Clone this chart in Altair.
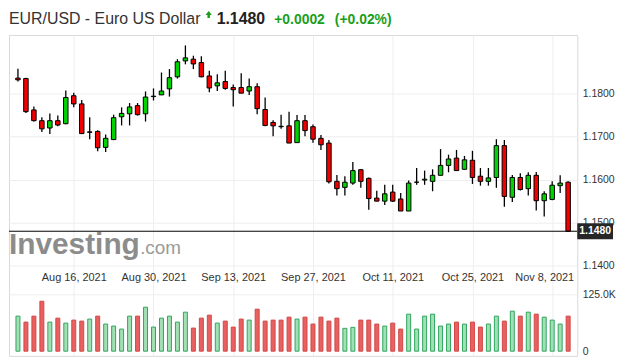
import altair as alt
import pandas as pd

FONT = "Liberation Sans"

title_main = "EUR/USD - Euro US Dollar"
title_last = "1.1480"
title_change = "+0.0002"
title_pct = "(+0.02%)"
watermark_a = "Investing"
watermark_b = ".com"

first_session = "2021-08-05"
n_sessions = 70
tick_dates = ["2021-08-16", "2021-08-30", "2021-09-13", "2021-09-27",
              "2021-10-11", "2021-10-25", "2021-11-08"]
tick_labels = ["Aug 16, 2021", "Aug 30, 2021", "Sep 13, 2021", "Sep 27, 2021",
               "Oct 11, 2021", "Oct 25, 2021", "Nov 8, 2021"]

opens = [1.1836, 1.1835, 1.1762, 1.1737, 1.1720, 1.1737, 1.1730, 1.1795, 1.1776, 1.1711,
         1.1712, 1.1675, 1.1693, 1.1746, 1.1753, 1.1772, 1.1753, 1.1793, 1.1797, 1.1811,
         1.1839, 1.1876, 1.1880, 1.1872, 1.1841, 1.1818, 1.1828, 1.1814, 1.1814, 1.1806,
         1.1816, 1.1763, 1.1733, 1.1724, 1.1725, 1.1686, 1.1737, 1.1723, 1.1696, 1.1685,
         1.1596, 1.1582, 1.1592, 1.1623, 1.1603, 1.1557, 1.1550, 1.1571, 1.1555, 1.1527,
         1.1594, 1.1599, 1.1596, 1.1610, 1.1633, 1.1650, 1.1624, 1.1645, 1.1608, 1.1596,
         1.1605, 1.1679, 1.1559, 1.1605, 1.1579, 1.1610, 1.1551, 1.1554, 1.1586, 1.1594]
highs = [1.1858, 1.1837, 1.1770, 1.1745, 1.1754, 1.1749, 1.1807, 1.1802, 1.1785, 1.1745,
         1.1715, 1.1705, 1.1751, 1.1768, 1.1778, 1.1778, 1.1805, 1.1812, 1.1849, 1.1857,
         1.1880, 1.1912, 1.1888, 1.1887, 1.1853, 1.1845, 1.1853, 1.1821, 1.1847, 1.1835,
         1.1824, 1.1791, 1.1738, 1.1751, 1.1758, 1.1750, 1.1750, 1.1728, 1.1704, 1.1692,
         1.1611, 1.1608, 1.1641, 1.1624, 1.1605, 1.1574, 1.1588, 1.1588, 1.1569, 1.1598,
         1.1627, 1.1621, 1.1624, 1.1671, 1.1658, 1.1669, 1.1655, 1.1667, 1.1627, 1.1627,
         1.1694, 1.1692, 1.1611, 1.1615, 1.1617, 1.1618, 1.1573, 1.1596, 1.1610, 1.1596]
lows = [1.1828, 1.1755, 1.1735, 1.1711, 1.1706, 1.1724, 1.1729, 1.1768, 1.1706, 1.1694,
        1.1666, 1.1664, 1.1692, 1.1726, 1.1726, 1.1749, 1.1735, 1.1784, 1.1797, 1.1793,
        1.1835, 1.1868, 1.1857, 1.1838, 1.1803, 1.1806, 1.1809, 1.1770, 1.1801, 1.1797,
        1.1752, 1.1724, 1.1701, 1.1718, 1.1685, 1.1686, 1.1701, 1.1686, 1.1669, 1.1591,
        1.1563, 1.1563, 1.1588, 1.1581, 1.1530, 1.1550, 1.1541, 1.1548, 1.1527, 1.1527,
        1.1588, 1.1588, 1.1573, 1.1610, 1.1617, 1.1621, 1.1623, 1.1590, 1.1586, 1.1586,
        1.1581, 1.1537, 1.1548, 1.1575, 1.1563, 1.1528, 1.1514, 1.1552, 1.1569, 1.1478]
closes = [1.1832, 1.1758, 1.1737, 1.1718, 1.1737, 1.1727, 1.1791, 1.1776, 1.1707, 1.1710,
          1.1674, 1.1696, 1.1744, 1.1754, 1.1769, 1.1751, 1.1792, 1.1794, 1.1806, 1.1837,
          1.1874, 1.1883, 1.1869, 1.1839, 1.1813, 1.1825, 1.1812, 1.1809, 1.1801, 1.1816,
          1.1765, 1.1726, 1.1725, 1.1723, 1.1685, 1.1737, 1.1714, 1.1694, 1.1681, 1.1595,
          1.1579, 1.1594, 1.1621, 1.1596, 1.1556, 1.1550, 1.1567, 1.1550, 1.1527, 1.1592,
          1.1594, 1.1601, 1.1610, 1.1633, 1.1648, 1.1621, 1.1646, 1.1605, 1.1596, 1.1604,
          1.1679, 1.1561, 1.1605, 1.1577, 1.1610, 1.1551, 1.1567, 1.1587, 1.1592, 1.1480]
volumes_k = [77.0, 63.9, 77.0, 109.7, 63.9, 72.6, 61.7, 68.3, 66.1, 70.5,
             77.0, 59.6, 55.2, 48.6, 77.0, 77.0, 96.6, 53.0, 72.6, 77.0,
             63.9, 85.7, 50.8, 72.6, 79.2, 61.7, 66.1, 53.0, 70.5, 68.3,
             92.3, 66.1, 68.3, 68.3, 74.8, 70.5, 74.8, 59.6, 74.8, 66.1,
             72.6, 50.2, 52.4, 68.3, 68.3, 59.6, 55.2, 61.7, 48.6, 81.4,
             48.6, 77.0, 81.4, 55.2, 59.6, 63.9, 59.6, 63.9, 53.0, 59.6,
             77.0, 66.1, 87.9, 77.0, 85.7, 81.4, 74.8, 68.3, 59.6, 77.0]
prev_session_close = 1.1828
last_price = 1.1480
price_ticks = [1.14, 1.15, 1.16, 1.17, 1.18]
volume_ticks = [0, 125]

# ---- table ----
dates = pd.bdate_range(first_session, periods=n_sessions)
prev_closes = [prev_session_close] + closes[:-1]
df = pd.DataFrame({
    "i": list(range(n_sessions)),
    "date": dates.strftime("%Y-%m-%d"),
    "open": opens, "high": highs, "low": lows, "close": closes,
    "vol": volumes_k,
})
df["up"] = [c >= o for o, c in zip(opens, closes)]
df["vol_up"] = [c >= p for p, c in zip(prev_closes, closes)]
tick_idx = [int(dates.get_loc(pd.Timestamp(d))) for d in tick_dates]

# ---- styles ----
W, H_TITLE, H_MAIN = 572, 23, 323
GRID = "#eeeeee"
TXT = "#333333"
GREEN_T = "#1a9e1a"
C_UP, C_DN = "#00d400", "#f20000"
V_UP_F, V_UP_S = "#a3dfb4", "#2fa560"
V_DN_F, V_DN_S = "#e8605f", "#d24848"

x_scale = alt.Scale(domain=[-0.5, 69.52], nice=False, zero=False)
label_list = "[" + ",".join("'%s'" % s for s in tick_labels) + "]"
idx_list = "[" + ",".join(str(v) for v in tick_idx) + "]"
x_axis = alt.Axis(
    values=tick_idx, orient="bottom", offset=-79, title=None,
    labelExpr=f"{label_list}[indexof({idx_list}, datum.value)]",
    labelOffset={"condition": {"test": f"datum.value == {tick_idx[-1]}", "value": -8}, "value": 0},
    labelBaseline="middle", labelPadding=0, ticks=False, domain=False,
    grid=True, gridColor=GRID, labelFont=FONT, labelFontSize=11, labelColor=TXT,
)
X = alt.X("i:Q", scale=x_scale, axis=x_axis)

price_scale = alt.Scale(domain=[1.119030, 1.193626], nice=False, zero=False)
price_axis = alt.Axis(
    orient="right", values=price_ticks, format=".4f", title=None,
    grid=True, gridColor=GRID, ticks=False, domain=False, labelPadding=5,
    labelFont=FONT, labelFontSize=10.5, labelColor=TXT,
)
vol_scale = alt.Scale(domain=[-10.25, 694.4], nice=False, zero=False)
vol_axis = alt.Axis(
    orient="right", values=volume_ticks, title=None,
    labelExpr="datum.value == 0 ? '0' : format(datum.value, '.1f') + 'K'",
    grid=True, gridColor=GRID,
    gridOpacity={"condition": {"test": "datum.value == 0", "value": 0}, "value": 1},
    ticks=False, domain=False, labelPadding=5,
    labelFont=FONT, labelFontSize=10.5, labelColor=TXT,
)

base = alt.Chart(df)
one = alt.Chart(pd.DataFrame({"k": [0]}))

volume = base.mark_bar(size=4, strokeWidth=1).encode(
    x=X,
    y=alt.Y("vol:Q", scale=vol_scale, axis=vol_axis),
    y2=alt.datum(0),
    fill=alt.condition("datum.vol_up", alt.value(V_UP_F), alt.value(V_DN_F)),
    stroke=alt.condition("datum.vol_up", alt.value(V_UP_S), alt.value(V_DN_S)),
)

wm1 = one.mark_text(align="left", baseline="alphabetic", font=FONT, fontSize=30,
                    fontWeight="bold", color="#8c8c8c").encode(
    x=alt.value(0), y=alt.value(220), text=alt.value(watermark_a))
wm2 = one.mark_text(align="left", baseline="alphabetic", font=FONT, fontSize=19,
                    color="#9a9a9a").encode(
    x=alt.value(132), y=alt.value(220), text=alt.value(watermark_b))

wicks = base.mark_rule(color="#000000", strokeWidth=1.3).encode(
    x=X,
    y=alt.Y("low:Q", scale=price_scale, axis=price_axis),
    y2="high:Q",
)
bodies = base.mark_bar(size=4.5, stroke="#000000", strokeWidth=1).encode(
    x=X,
    y=alt.Y("open:Q", scale=price_scale, axis=price_axis),
    y2="close:Q",
    fill=alt.condition("datum.up", alt.value(C_UP), alt.value(C_DN)),
)
last_line = one.mark_rule(color="#000000", strokeWidth=1).encode(
    y=alt.datum(last_price))
box_half = 0.00185
last_box = one.mark_rect(color="#262626").encode(
    x=alt.value(W), x2=alt.value(W + 36),
    y=alt.datum(last_price + box_half), y2=alt.datum(last_price - box_half))
last_text = one.mark_text(color="#ffffff", font=FONT, fontSize=10.5, fontWeight="bold",
                          align="center", baseline="middle").encode(
    x=alt.value(W + 18), y=alt.datum(last_price), text=alt.value(f"{last_price:.4f}"))

price = alt.layer(wm1, wm2, wicks, bodies, last_line, last_box, last_text)

main = alt.layer(volume, price).resolve_scale(y="independent").properties(
    width=W, height=H_MAIN)

ARROW = "M0,-1L0.9,0.1L0.35,0.1L0.35,1L-0.35,1L-0.35,0.1L-0.9,0.1Z"
t1 = one.mark_text(align="left", baseline="alphabetic", font=FONT, fontSize=16,
                   color=TXT).encode(x=alt.value(0), y=alt.value(14), text=alt.value(title_main))
arrow = one.mark_point(shape=ARROW, filled=True, size=50, color=GREEN_T, opacity=1).encode(
    x=alt.value(201), y=alt.value(4.5))
t2 = one.mark_text(align="left", baseline="alphabetic", font=FONT, fontSize=16,
                   fontWeight="bold", color="#222222").encode(
    x=alt.value(209), y=alt.value(14), text=alt.value(title_last))
t3 = one.mark_text(align="left", baseline="alphabetic", font=FONT, fontSize=14,
                   fontWeight="bold", color=GREEN_T).encode(
    x=alt.value(267), y=alt.value(14), text=alt.value(title_change))
t4 = one.mark_text(align="left", baseline="alphabetic", font=FONT, fontSize=14,
                   fontWeight="bold", color=GREEN_T).encode(
    x=alt.value(328), y=alt.value(14), text=alt.value(title_pct))
title_chart = alt.layer(t1, arrow, t2, t3, t4).properties(
    width=W, height=H_TITLE, view=alt.ViewBackground(stroke="transparent"))

chart = alt.vconcat(title_chart, main, spacing=0).properties(padding=0).configure(
    font=FONT).configure_view(stroke="#d9d9d9")

chart.save("out.html", embed_options={"renderer": "svg", "actions": False})
